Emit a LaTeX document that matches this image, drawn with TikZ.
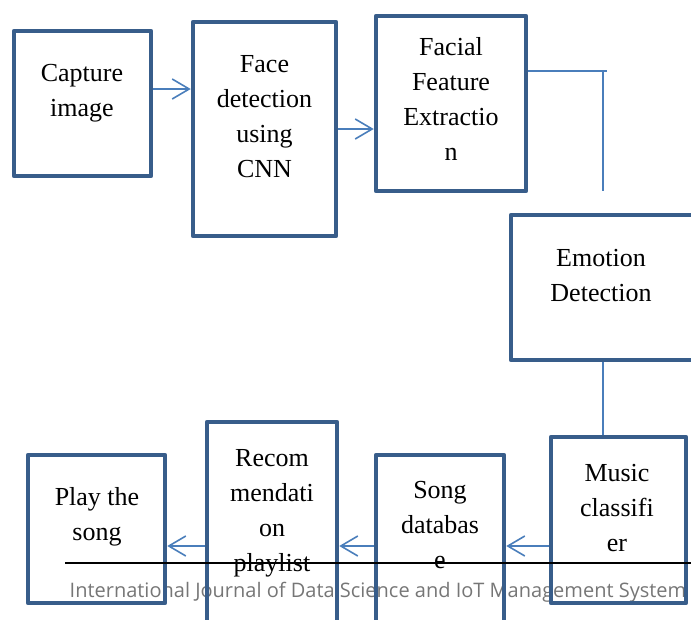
\documentclass[tikz,border=0pt]{standalone}
\usepackage{fontspec}
\setmainfont{Liberation Serif}
\newfontfamily\footfont{Open Sans}
\usetikzlibrary{arrows.meta}
\definecolor{boxblue}{RGB}{56,93,138}
\definecolor{lineblue}{RGB}{74,126,187}
\definecolor{footgray}{RGB}{118,118,118}

\begin{document}
\begin{tikzpicture}[x=1pt, y=-1pt]
        \tikzstyle{stage}=[rectangle, draw=boxblue, line width=4.5pt, line join=round, inner sep=0pt]
        \tikzstyle{caption}=[align=center, inner sep=0pt, font=\fontsize{26}{35}\selectfont]
        \tikzstyle{link}=[draw=lineblue, line width=1.6pt]
        \tikzstyle{flow}=[link, -{Straight Barb[length=17pt, width=20pt, line width=1.6pt]}]
        \tikzstyle{footer}=[inner sep=0pt, text=footgray, font=\footfont\fontsize{20}{24}\selectfont]

        \useasboundingbox (0,0) rectangle (691,619);

        % Footer
        \draw node at (378,592) [footer] (journal) {International Journal of Data Science and IoT Management System};

        % Top row
        \draw node at (82.5,103.5) [stage, minimum width=137pt, minimum height=145pt] (capture) {};
        \draw node at (82,93) [caption] (capture_txt) {Capture\\image};

        \draw node at (264.5,129) [stage, minimum width=143pt, minimum height=214pt] (face) {};
        \draw node at (264.5,117) [caption] (face_txt) {Face\\detection\\using\\CNN};

        \draw node at (451,103.5) [stage, minimum width=150pt, minimum height=175pt] (facial) {};
        \draw node at (451,99) [caption] (facial_txt) {Facial\\Feature\\Extractio\\n};

        % Right side
        \draw node at (603,287.5) [stage, minimum width=184pt, minimum height=145pt] (emotion) {};
        \draw node at (601,276) [caption] (emotion_txt) {Emotion\\Detection};

        % Bottom row
        \draw node at (618.5,520) [stage, minimum width=135pt, minimum height=166pt] (music) {};
        \draw node at (617,508) [caption] (music_txt) {Music\\classifi\\er};

        \draw node at (440,552.5) [stage, minimum width=128pt, minimum height=195pt] (songdb) {};
        \draw node at (440,525) [caption] (songdb_txt) {Song\\databas\\e};

        \draw node at (272,536) [stage, minimum width=130pt, minimum height=228pt] (recom) {};
        \draw node at (272,513) [caption] (recom_txt) {Recom\\mendati\\on\\playlist};

        \draw node at (96.5,529) [stage, minimum width=137pt, minimum height=148pt] (play) {};
        \draw node at (97,517) [caption] (play_txt) {Play the\\song};

        % Top row links
        \coordinate (upper) at (0,89);
        \draw [flow] (capture.east |- upper) -- (face.west |- upper);
        \draw [flow] (face.east) -- (face.east -| facial.west);

        % Facial -> Emotion
        \coordinate (bend) at (603,71);
        \coordinate (bend_end) at (607,71);
        \coordinate (stub) at (603,191);
        \draw [link] (facial.east |- bend) -- (bend_end);
        \draw [link] (bend) -- (stub);

        % Emotion -> Music
        \draw [link] (emotion.south) -- (emotion.south |- music.north);

        % Bottom row links
        \coordinate (low) at (0,546);
        \draw [flow] (music.west |- low) -- (songdb.east |- low);
        \draw [flow] (songdb.west |- low) -- (recom.east |- low);
        \draw [flow] (recom.west |- low) -- (play.east |- low);

        % Rule
        \coordinate (rule_l) at (65,563);
        \coordinate (rule_r) at (691,563);
        \draw [black, line width=1.5pt] (rule_l) -- (rule_r);

    \end{tikzpicture}
\end{document}
